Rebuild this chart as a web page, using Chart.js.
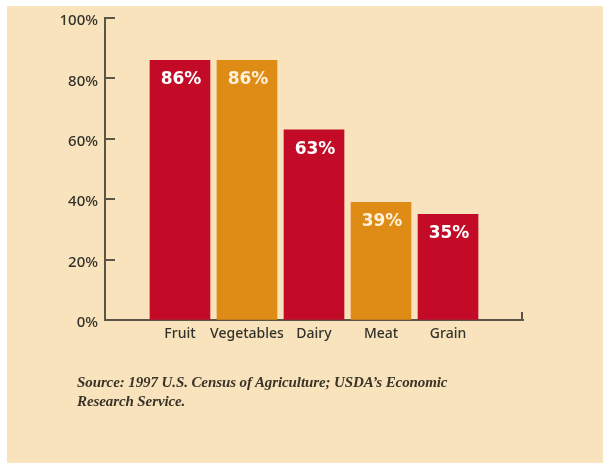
<!DOCTYPE html>
<html>
<head>
<meta charset="utf-8">
<script src="https://cdn.jsdelivr.net/npm/chart.js@4"></script>
<style>
  body { margin: 0; background: #ffffff; }
  #panel { position: absolute; left: 7px; top: 6px; width: 596px; height: 457px; background: #f9e3bc; }
  #chart { position: absolute; left: 0; top: 0; }
  #source {
    position: absolute; left: 70px; top: 367px;
    font: italic bold 15px "Liberation Serif", serif;
    letter-spacing: -0.1px;
    line-height: 18.5px; color: #3a3328;
  }
</style>
</head>
<body>
<div id="panel">
  <canvas id="chart" width="596" height="457"></canvas>
  <div id="source">Source: 1997 U.S. Census of Agriculture; USDA’s Economic<br>Research Service.</div>
</div>
<script>
// data
const categories = ['Fruit', 'Vegetables', 'Dairy', 'Meat', 'Grain'];
const shares = [86, 86, 63, 39, 35];
const barColors = ['#c30b28', '#df8c17', '#c30b28', '#df8c17', '#c30b28'];
const labelColors = ['#ffffff', '#fdf1dc', '#ffffff', '#fdf1dc', '#ffffff'];
const yTicks = [0, 20, 40, 60, 80, 100];

const axisColor = '#5a5545';
const xMin = -1.119, xMax = 5.119;  // leaves the empty stretch at both ends of the x axis

// small inward ticks on the y axis + the end tick on the x axis
const axisTicks = {
  id: 'axisTicks',
  afterDraw(chart) {
    const { ctx, chartArea, scales } = chart;
    ctx.save();
    ctx.strokeStyle = axisColor;
    ctx.lineWidth = 2;
    ctx.beginPath();
    yTicks.forEach(v => {
      const y = Math.round(scales.y.getPixelForValue(v));
      ctx.moveTo(chartArea.left, y);
      ctx.lineTo(chartArea.left + 10, y);
    });
    ctx.moveTo(chartArea.right - 1, chartArea.bottom);
    ctx.lineTo(chartArea.right - 1, chartArea.bottom - 8);
    ctx.stroke();
    ctx.restore();
  }
};

// percentage written inside the top of each bar
const barValues = {
  id: 'barValues',
  afterDatasetsDraw(chart) {
    const { ctx } = chart;
    const meta = chart.getDatasetMeta(0);
    ctx.save();
    ctx.font = 'bold 17px "DejaVu Sans"';
    ctx.textAlign = 'center';
    ctx.textBaseline = 'alphabetic';
    meta.data.forEach((bar, i) => {
      ctx.fillStyle = labelColors[i];
      ctx.fillText(shares[i] + '%', bar.x + 1, bar.y + 24);
    });
    ctx.restore();
  }
};

Chart.defaults.font.family = '"Noto Sans", sans-serif';
Chart.defaults.color = '#3b3a30';

new Chart(document.getElementById('chart'), {
  type: 'bar',
  data: {
    datasets: [{
      data: categories.map((c, i) => ({ x: i, y: shares[i] })),
      backgroundColor: barColors,
      borderWidth: 0,
      barThickness: 60
    }]
  },
  options: {
    responsive: false,
    animation: false,
    layout: { padding: { left: 0, top: 12, right: 80, bottom: 0 } },
    plugins: { legend: { display: false }, tooltip: { enabled: false } },
    scales: {
      x: {
        type: 'linear',
        bounds: 'data',
        offset: false,
        min: xMin,
        max: xMax,
        afterBuildTicks: s => {
          s.ticks = categories.map((c, i) => ({ value: i }));
          s.min = xMin;
          s.max = xMax;
        },
        afterFit: s => { s.height = 143; s.paddingLeft = 0; s.paddingRight = 0; },
        grid: { drawOnChartArea: false, drawTicks: false },
        border: { color: axisColor, width: 2 },
        ticks: {
          padding: 6,
          color: '#33322a',
          font: { size: 14, weight: '500' },
          callback: v => categories[v]
        }
      },
      y: {
        min: 0,
        max: 100,
        afterBuildTicks: s => { s.ticks = yTicks.map(v => ({ value: v })); },
        afterFit: s => { s.width = 98; s.paddingTop = 0; s.paddingBottom = 0; },
        grid: { drawOnChartArea: false, drawTicks: false },
        border: { color: axisColor, width: 2 },
        ticks: {
          padding: 7,
          labelOffset: 3,
          color: '#33322a',
          font: { size: 15, weight: '500' },
          callback: v => v + '%'
        }
      }
    }
  },
  plugins: [axisTicks, barValues]
});
</script>
</body>
</html>
